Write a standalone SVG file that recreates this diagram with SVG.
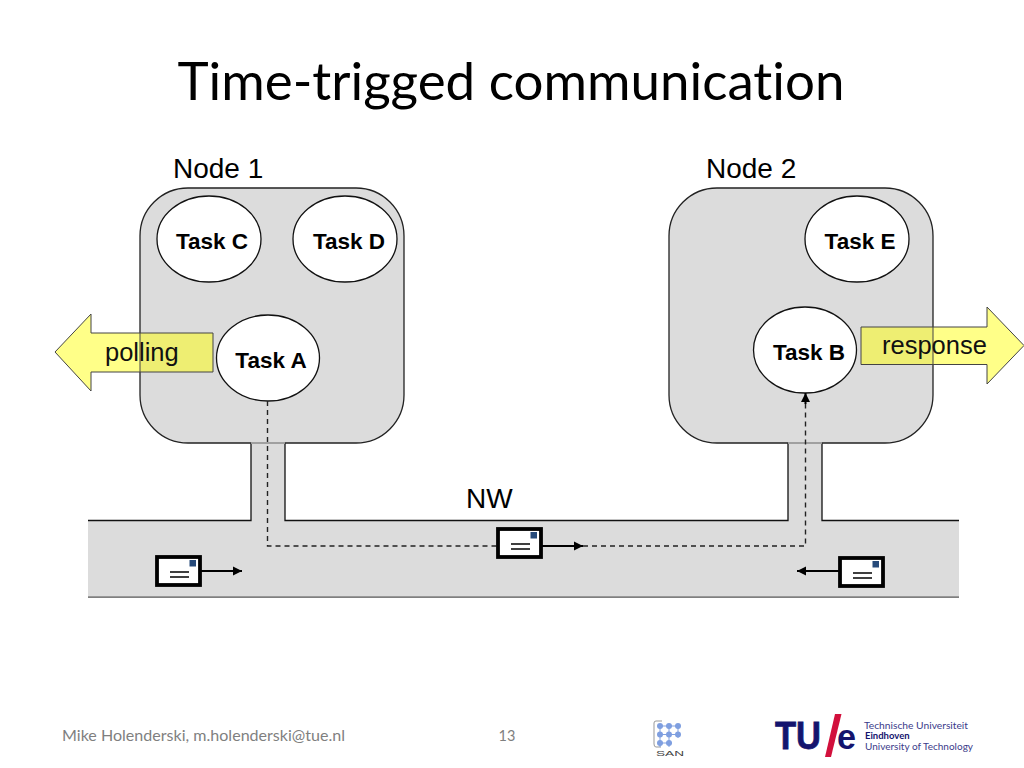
<svg xmlns="http://www.w3.org/2000/svg" width="1024" height="768" viewBox="0 0 1024 768">
<style>
.sans{font-family:"Liberation Sans",Arial,sans-serif}
.cal{font-family:Lato,"Open Sans",sans-serif;font-variant-ligatures:none}
.lbl{font-size:28px;fill:#000}
.lbl2{font-size:25.5px;fill:#111}
.task{font-size:22.500px;font-weight:bold;text-anchor:middle;fill:#000}
.box{fill:#dcdcdc;stroke:#222;stroke-width:1.3}
.ell{fill:#fff;stroke:#111;stroke-width:1.3}
.arrow{fill:#ffff88}
.over{fill:#eeee72}
.edge{fill:none;stroke:#444;stroke-width:1}
.dash{fill:none;stroke:#222;stroke-width:1.4;stroke-dasharray:5 4}
.env{fill:#fff;stroke:#000;stroke-width:3.8}
.line{stroke:#000;stroke-width:2;fill:none}
.thin{stroke:#000;stroke-width:1.5;fill:none}
.san{fill:#7f9fe0}
</style>
<defs>
<marker id="ah" markerUnits="userSpaceOnUse" markerWidth="10" markerHeight="10" refX="9" refY="5" orient="auto"><path d="M0 0.5L9 5L0 9.500Z" fill="#000"/></marker>
<g id="envelope">
<rect class="env" x="-21" y="-14" width="43" height="28"/>
<rect x="11.500" y="-11" width="6.500" height="6.500" fill="#264a7a"/>
<path d="M-8 1H11M-8 6H11" class="thin"/>
</g>
</defs>
<rect width="1024" height="768" fill="#fff"/>
<text id="title" class="cal" x="511" y="100" font-size="52" text-anchor="middle" textLength="667" lengthAdjust="spacingAndGlyphs" fill="#000">Time-trigged communication</text>

<g id="network">
<path d="M88 520H251V443H285V520H788V443H822V520H959V597H88Z" fill="#dcdcdc"/>
<path d="M88 520.500H251V443M285 443V520.500H788V443M822 443V520.500H959" fill="none" stroke="#111" stroke-width="1.300"/>
<path d="M88 597.200H959" stroke="#555" stroke-width="1.300"/>
<text class="sans lbl" x="466" y="508">NW</text>
</g>
<g id="node1">
<rect class="box" x="140" y="188" width="264" height="255" rx="48"/>
<text class="sans lbl" x="173" y="178">Node 1</text>
</g>
<g id="node2">
<rect class="box" x="669" y="188" width="264" height="255" rx="48"/>
<text class="sans lbl" x="706" y="178">Node 2</text>
</g>
<path d="M251 443H285M788 443H822" stroke="#bbb" stroke-width="1.500"/>

<g id="task-c"><ellipse class="ell" cx="209" cy="239" rx="52" ry="43"/><text class="sans task" x="212" y="249">Task C</text></g>
<g id="task-d"><ellipse class="ell" cx="345" cy="239" rx="52" ry="43"/><text class="sans task" x="349" y="249">Task D</text></g>
<g id="task-e"><ellipse class="ell" cx="857" cy="239" rx="52" ry="43"/><text class="sans task" x="860" y="249">Task E</text></g>
<g id="task-a"><ellipse class="ell" cx="268" cy="358" rx="51.500" ry="43"/><text class="sans task" x="271" y="368">Task A</text></g>
<g id="task-b"><ellipse class="ell" cx="805" cy="350" rx="51.500" ry="43"/><text class="sans task" x="809" y="360">Task B</text></g>

<g id="polling">
<polygon class="arrow" points="55,352 91,314 91,333 213,333 213,372 91,372 91,391"/>
<rect class="over" x="140" y="333" width="73" height="39"/>
<path class="edge" d="M140 333V372"/>
<polygon class="edge" points="55,352 91,314 91,333 213,333 213,372 91,372 91,391"/>
<text class="sans lbl2" x="105" y="361">polling</text>
</g>
<g id="response">
<polygon class="arrow" points="861,327 987,327 987,307 1024,345.500 987,384 987,364.500 861,364.500"/>
<rect class="over" x="861" y="327" width="72" height="37.500"/>
<path class="edge" d="M933 327V364.500"/>
<polygon class="edge" points="861,327 987,327 987,307 1024,345.500 987,384 987,364.500 861,364.500"/>
<text class="sans lbl2" x="882" y="354">response</text>
</g>

<g id="connectors">
<path class="dash" d="M267.500 401V546H497"/>
<path class="dash" d="M583 546H805.500V402"/>
<path d="M805.500 404V393" class="line" marker-end="url(#ah)"/>
<path d="M541 546H583" class="line" marker-end="url(#ah)"/>
<path d="M200 571H242" class="line" marker-end="url(#ah)"/>
<path d="M839 571H797" class="line" marker-end="url(#ah)"/>
</g>
<g id="msg-1"><use href="#envelope" x="178" y="571"/></g>
<g id="msg-2"><use href="#envelope" x="519" y="543"/></g>
<g id="msg-3"><use href="#envelope" x="861" y="572"/></g>

<g id="footer">
<text class="cal" x="62" y="741" font-size="14.500" fill="#7f7f7f" textLength="283" lengthAdjust="spacingAndGlyphs">Mike Holenderski, m.holenderski@tue.nl</text>
<text class="cal" x="507" y="741" font-size="14.500" fill="#7f7f7f" text-anchor="middle">13</text>
</g>
<g id="san-logo">
<path d="M662 721H656Q654 721 654 723V744Q654 747 656 747H661" fill="none" stroke="#999" stroke-width="1"/>
<path d="M660 726H680M660 734.500H680M660 743H672M660 726V747M669 726V747M678 726V738" stroke="#7f9fe0" stroke-width="1" fill="none"/>
<circle class="san" cx="660" cy="726" r="3"/><circle class="san" cx="669" cy="726" r="3"/><circle class="san" cx="678" cy="726" r="3"/>
<circle class="san" cx="660" cy="734.500" r="3"/><circle class="san" cx="669" cy="734.500" r="3"/><circle class="san" cx="678" cy="734.500" r="3"/>
<circle class="san" cx="660" cy="743" r="3"/><circle class="san" cx="669" cy="743" r="3"/>
<text class="sans" x="656" y="756" font-size="6.500" fill="#444" textLength="28" lengthAdjust="spacingAndGlyphs">SAN</text>
</g>
<g id="tue-logo">
<text class="sans" x="775" y="749" font-size="39" font-weight="bold" fill="#14146e" stroke="#14146e" stroke-width="0.800" textLength="46" lengthAdjust="spacingAndGlyphs">TU</text>
<path d="M825 757L835 714H841.500L831 757Z" fill="#d2103c"/>
<text class="sans" x="837" y="749" font-size="35" font-weight="bold" fill="#14146e" textLength="19" lengthAdjust="spacingAndGlyphs">e</text>
<text class="cal" x="864" y="729" font-size="9.500" fill="#3b3b8a" textLength="104" lengthAdjust="spacingAndGlyphs">Technische Universiteit</text>
<text class="cal" x="865" y="739" font-size="9.500" font-weight="bold" fill="#14146e">Eindhoven</text>
<text class="cal" x="865" y="750" font-size="9.500" fill="#3b3b8a" textLength="108" lengthAdjust="spacingAndGlyphs">University of Technology</text>
</g>
</svg>
